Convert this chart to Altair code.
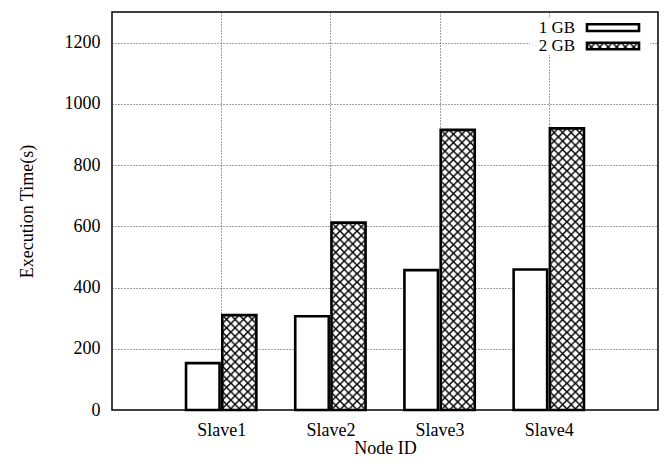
import base64
import altair as alt
import pandas as pd

# ---- data ----
nodes = ["Slave1", "Slave2", "Slave3", "Slave4"]
series_names = ["1 GB", "2 GB"]
time_1gb = [153, 306, 457, 459]
time_2gb = [310, 612, 915, 920]
y_ticks = [0, 200, 400, 600, 800, 1000, 1200]
x_ticks = [1, 2, 3, 4]

rows = []
for n, a, b in zip(nodes, time_1gb, time_2gb):
    rows.append({"node": n, "series": series_names[0], "time": a})
    rows.append({"node": n, "series": series_names[1], "time": b})
df = pd.DataFrame(rows)

FONT = "Liberation Serif"

hatch_svg = (
    '<svg xmlns="http://www.w3.org/2000/svg" width="100%" height="100%">'
    '<defs><pattern id="h" x="0" y="0" width="8.5" height="8.5" patternUnits="userSpaceOnUse">'
    '<rect width="8.5" height="8.5" fill="white"/>'
    '<path d="M-1,-1L9.5,9.5M9.5,-1L-1,9.5" stroke="black" stroke-width="1.5"/>'
    '</pattern></defs><rect width="100%" height="100%" fill="url(#h)"/></svg>'
)
hatch_uri = "data:image/svg+xml;base64," + base64.b64encode(hatch_svg.encode()).decode()

node_arr = "[" + ",".join("'%s'" % n for n in nodes) + "]"
label_expr = node_arr + "[datum.value - 1] || ''"

base = alt.Chart(df).transform_calculate(
    idx="indexof(%s, datum.node) + 1" % node_arr
).transform_calculate(
    x0="datum.idx + (datum.series == '%s' ? -0.322 : 0.01)" % series_names[0],
    x1="datum.idx + (datum.series == '%s' ? -0.015 : 0.322)" % series_names[0],
)

x_enc = alt.X(
    "x0:Q",
    scale=alt.Scale(domain=[0, 5], nice=False, zero=False),
    axis=alt.Axis(values=x_ticks, labelExpr=label_expr, title="Node ID",
                  labelPadding=11, titlePadding=0),
)
x2_enc = alt.X2("x1:Q")
y_enc = alt.Y(
    "time:Q",
    scale=alt.Scale(domain=[0, 1300], nice=False),
    axis=alt.Axis(values=y_ticks, format="d", title="Execution Time(s)",
                  labelPadding=12, titlePadding=28),
)
y2_enc = alt.datum(0)

fill_layer = base.mark_bar(color="white").encode(x=x_enc, x2=x2_enc, y=y_enc, y2=y2_enc)
hatch_layer = base.transform_filter(
    "datum.series == '%s'" % series_names[1]
).mark_image(aspect=False).encode(
    x=x_enc, x2=x2_enc, y=y_enc, y2=y2_enc, url=alt.value(hatch_uri)
)
outline_layer = base.mark_bar(
    fillOpacity=0, stroke="black", strokeWidth=2.6
).encode(x=x_enc, x2=x2_enc, y=y_enc, y2=y2_enc)

# ---- key (gnuplot-style, top right) ----
one = alt.Data(values=[{"k": 0}])
leg_bg = alt.Chart(one).mark_rect(color="white").encode(
    x=alt.value(418), x2=alt.value(538), y=alt.value(5), y2=alt.value(43)
)
leg_t1 = alt.Chart(one).mark_text(
    align="right", baseline="alphabetic", font=FONT, fontSize=17, color="black"
).encode(text=alt.value(series_names[0]), x=alt.value(463), y=alt.value(20.7))
leg_t2 = alt.Chart(one).mark_text(
    align="right", baseline="alphabetic", font=FONT, fontSize=17, color="black"
).encode(text=alt.value(series_names[1]), x=alt.value(463), y=alt.value(38.7))
leg_r1 = alt.Chart(one).mark_rect(fill="white", stroke="black", strokeWidth=2.6).encode(
    x=alt.value(475), x2=alt.value(527), y=alt.value(12.3), y2=alt.value(19)
)
leg_i2 = alt.Chart(one).mark_image(aspect=False).encode(
    x=alt.value(475), x2=alt.value(527), y=alt.value(30.7), y2=alt.value(37.3),
    url=alt.value(hatch_uri)
)
leg_r2 = alt.Chart(one).mark_rect(fillOpacity=0, stroke="black", strokeWidth=2.6).encode(
    x=alt.value(475), x2=alt.value(527), y=alt.value(30.7), y2=alt.value(37.3)
)

chart = alt.layer(
    fill_layer, hatch_layer, outline_layer,
    leg_bg, leg_t1, leg_t2, leg_r1, leg_i2, leg_r2
).properties(
    width=546, height=398,
    autosize=alt.AutoSizeParams(type="none"),
    padding={"left": 104, "top": 4, "right": 1, "bottom": 48},
).configure_view(
    stroke="black", strokeWidth=1.5
).configure_axis(
    labelFont=FONT, labelFontSize=18, labelColor="black",
    titleFont=FONT, titleFontSize=18, titleFontWeight="normal", titleColor="black",
    gridColor="#444", gridDash=[1, 2], gridWidth=1,
    domain=False, ticks=False,
)

chart.save("out.html", embed_options={"renderer": "svg", "actions": False})
